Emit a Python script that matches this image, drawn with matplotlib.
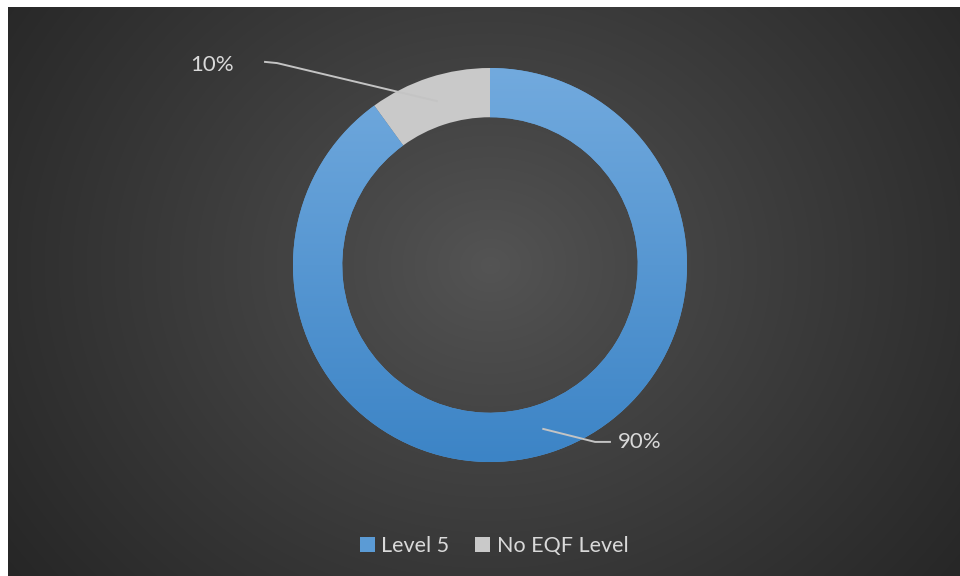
import numpy as np
import matplotlib.pyplot as plt
from matplotlib.colors import LinearSegmentedColormap
from matplotlib.patches import Patch

plt.rcParams['font.family'] = ['Lato', 'DejaVu Sans']

labels = ['Level 5', 'No EQF Level']
shares = [90, 10]
colors = ['#5b9bd5', '#c9c9c9']

W, H = 960, 576
fig = plt.figure(figsize=(W / 100, H / 100), dpi=100)
fig.patch.set_facecolor('white')

# dark radial background
bg = fig.add_axes([8 / W, 0, 952 / W, 569 / H])
ny, nx = 569, 952
yy, xx = np.mgrid[0:ny, 0:nx]
cx, cy = 482, 258
r = np.hypot((xx - cx) / 1.15, yy - cy)
r = r / r.max()
shade = 0.33 - 0.18 * np.clip(r, 0, 1) ** 0.9
bg.imshow(np.dstack([shade] * 3), aspect='auto', interpolation='bilinear')
bg.set_axis_off()

# donut axes: centre (490, 265) px, outer radius 197 px
R = 197
ax = fig.add_axes([(490 - R) / W, (H - 265 - R) / H, 2 * R / W, 2 * R / H])
ax.patch.set_alpha(0)
ring = 0.25
wedges, _ = ax.pie(shares, colors=colors, startangle=90, counterclock=False,
                   radius=1, wedgeprops=dict(width=ring, linewidth=0))

# vertical gradient on the blue ring
blue = LinearSegmentedColormap.from_list('blue', ['#72aade', '#3c84c6'])
grad = np.linspace(0, 1, 256).reshape(-1, 1)
img = ax.imshow(grad, cmap=blue, extent=(-1, 1, -1, 1), origin='upper',
                aspect='auto', zorder=wedges[0].get_zorder() + 0.1)
img.set_clip_path(wedges[0])

ax.set_xlim(-1, 1)
ax.set_ylim(-1, 1)
ax.set_aspect('equal')
ax.set_axis_off()

# data labels with leader lines
line_col = '#c4c4c4'
text_col = '#d9d9d9'
mid_r = 1 - ring / 2
angles = []
start = 90.0
for s in shares:
    sweep = 360.0 * s / sum(shares)
    angles.append(np.deg2rad(start - sweep / 2))
    start -= sweep

label_pos = [(0.761, -0.898), (-1.411, 1.015)]
elbows = [[(0.533, -0.898), (0.609, -0.898)],
          [(-1.081, 1.025), (-1.142, 1.031)]]
for a, s, (tx, ty), el in zip(angles, shares, label_pos, elbows):
    px = [mid_r * np.cos(a), el[0][0], el[1][0]]
    py = [mid_r * np.sin(a), el[0][1], el[1][1]]
    ax.plot(px, py, color=line_col, lw=1.4, clip_on=False, zorder=5)
    ax.text(tx, ty, f'{s}%', color=text_col, fontsize=16,
            ha='center', va='center', clip_on=False)

handles = [Patch(facecolor=c, edgecolor='none') for c in colors]
leg = fig.legend(handles, labels, loc='center', bbox_to_anchor=(494 / W, 1 - 546 / H),
                 ncol=2, frameon=False, fontsize=15.5, handlelength=0.7,
                 handleheight=0.7, handletextpad=0.3, columnspacing=1.2)
for t in leg.get_texts():
    t.set_color(text_col)

fig.savefig('out.png', dpi=100, facecolor=fig.get_facecolor())
